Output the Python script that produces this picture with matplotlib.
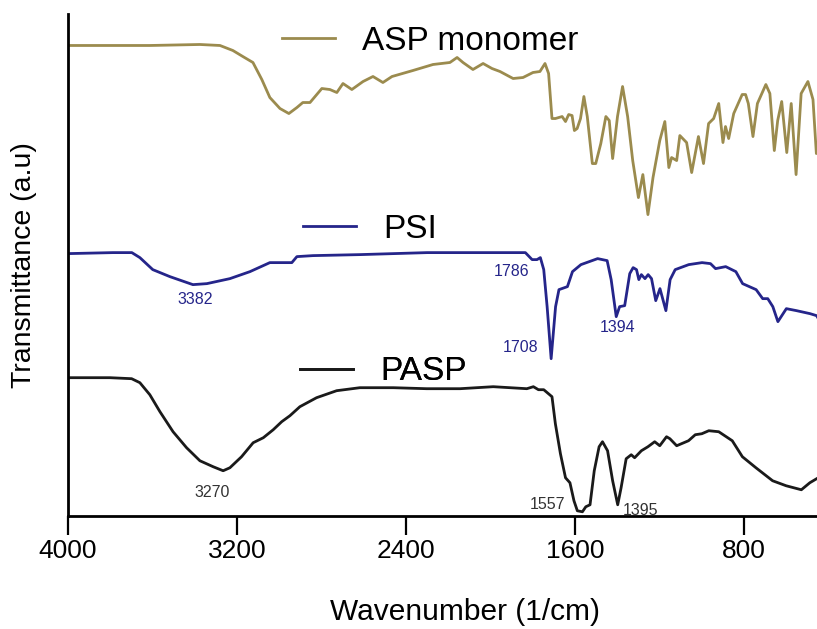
import matplotlib
matplotlib.use("Agg")
import matplotlib.pyplot as plt
from matplotlib.lines import Line2D

plt.rcParams['font.family'] = ['Liberation Sans', 'DejaVu Sans']

# wavenumber (1/cm) and offset transmittance (a.u.)
asp_wn = [4000, 3612, 3375, 3280, 3219, 3172, 3124, 3082, 3044, 2996, 2954, 2916, 2888,
          2854, 2798, 2760, 2727, 2698, 2656, 2603, 2556, 2509, 2466, 2367, 2272, 2192,
          2158, 2130, 2083, 2035, 1993, 1955, 1893, 1846, 1799, 1766, 1742, 1725, 1709,
          1693, 1661, 1645, 1630, 1614, 1603, 1590, 1574, 1558, 1542, 1518, 1502, 1478,
          1454, 1438, 1422, 1399, 1375, 1351, 1327, 1300, 1279, 1255, 1231, 1199, 1175,
          1156, 1143, 1119, 1104, 1072, 1048, 1016, 992, 968, 944, 920, 900, 888, 873,
          849, 809, 793, 780, 758, 737, 697, 678, 657, 641, 622, 598, 577, 554, 530, 498,
          474, 458, 440]
asp_t = [4.70, 4.70, 4.71, 4.70, 4.65, 4.59, 4.53, 4.36, 4.18, 4.07, 4.02, 4.08, 4.13,
         4.13, 4.27, 4.26, 4.23, 4.32, 4.26, 4.34, 4.39, 4.33, 4.39, 4.45, 4.51, 4.53,
         4.58, 4.53, 4.46, 4.52, 4.47, 4.44, 4.37, 4.38, 4.43, 4.44, 4.52, 4.42, 3.97,
         3.97, 3.99, 3.94, 4.01, 4.00, 3.85, 3.87, 3.97, 4.19, 3.99, 3.52, 3.52, 3.72,
         3.99, 3.95, 3.57, 3.99, 4.29, 3.99, 3.55, 3.18, 3.41, 3.01, 3.38, 3.75, 3.94,
         3.48, 3.58, 3.55, 3.80, 3.73, 3.43, 3.79, 3.52, 3.92, 3.97, 4.12, 3.73, 3.89,
         3.77, 4.02, 4.21, 4.21, 4.12, 3.79, 4.12, 4.31, 4.22, 3.65, 3.95, 4.14, 3.63,
         4.12, 3.41, 4.22, 4.34, 4.16, 3.62, 3.65]

psi_wn = [4000, 3787, 3697, 3659, 3598, 3517, 3408, 3342, 3233, 3138, 3044, 2963, 2940,
          2916, 2840, 2618, 2300, 2144, 1988, 1835, 1803, 1780, 1764, 1748, 1732, 1713,
          1692, 1676, 1636, 1612, 1572, 1493, 1448, 1429, 1405, 1389, 1365, 1341, 1325,
          1309, 1298, 1286, 1269, 1254, 1238, 1218, 1198, 1170, 1150, 1126, 1062, 999,
          959, 935, 887, 839, 807, 743, 712, 688, 664, 640, 600, 552, 488, 457, 440]
psi_t = [2.62, 2.63, 2.63, 2.58, 2.46, 2.39, 2.31, 2.32, 2.37, 2.44, 2.53, 2.53, 2.53,
         2.59, 2.60, 2.61, 2.63, 2.63, 2.63, 2.63, 2.56, 2.56, 2.58, 2.46, 2.09, 1.57,
         2.09, 2.26, 2.29, 2.44, 2.51, 2.57, 2.55, 2.36, 1.99, 2.09, 2.10, 2.42, 2.48,
         2.46, 2.36, 2.41, 2.37, 2.41, 2.37, 2.15, 2.27, 2.05, 2.36, 2.46, 2.51, 2.53,
         2.52, 2.47, 2.49, 2.44, 2.32, 2.26, 2.17, 2.17, 2.09, 1.94, 2.07, 2.05, 2.02,
         2.00, 1.94]

pasp_wn = [4000, 3801, 3698, 3659, 3612, 3564, 3502, 3438, 3375, 3312, 3265, 3233, 3178,
           3123, 3075, 3028, 2988, 2949, 2902, 2823, 2728, 2618, 2460, 2302, 2144, 1987,
           1828, 1797, 1773, 1748, 1709, 1693, 1669, 1645, 1624, 1605, 1589, 1565, 1549,
           1529, 1509, 1486, 1470, 1446, 1422, 1398, 1382, 1358, 1334, 1318, 1286, 1255,
           1223, 1199, 1167, 1151, 1119, 1063, 1031, 1000, 967, 920, 856, 808, 744, 665,
           601, 529, 489, 449]
pasp_t = [1.38, 1.38, 1.37, 1.33, 1.21, 1.04, 0.84, 0.68, 0.55, 0.49, 0.45, 0.48, 0.59,
          0.73, 0.78, 0.86, 0.94, 1.00, 1.09, 1.18, 1.25, 1.28, 1.28, 1.27, 1.27, 1.29,
          1.27, 1.29, 1.26, 1.26, 1.19, 0.92, 0.62, 0.38, 0.33, 0.15, 0.05, 0.04, 0.09,
          0.11, 0.45, 0.69, 0.74, 0.65, 0.35, 0.11, 0.28, 0.57, 0.61, 0.58, 0.65, 0.69,
          0.74, 0.70, 0.79, 0.77, 0.70, 0.75, 0.81, 0.82, 0.85, 0.84, 0.75, 0.59, 0.48,
          0.35, 0.30, 0.26, 0.33, 0.38]

# peak labels: text, wavenumber position, transmittance position
psi_peaks = [("3382", 3399, 2.16), ("1786", 1898, 2.44), ("1708", 1860, 1.68),
             ("1394", 1401, 1.88)]
pasp_peaks = [("3270", 3318, 0.23), ("1557", 1728, 0.11), ("1395", 1292, 0.05)]

c_asp = '#9b8b4e'
c_psi = '#25258a'
c_pasp = '#1a1a1a'

fig = plt.figure(figsize=(8.17, 6.29), dpi=100)
ax = fig.add_axes([0.083, 0.18, 0.917, 0.797])

ax.plot(asp_wn, asp_t, color=c_asp, lw=2)
ax.plot(psi_wn, psi_t, color=c_psi, lw=2)
ax.plot(pasp_wn, pasp_t, color=c_pasp, lw=2)

for txt, x, y in psi_peaks:
    ax.text(x, y, txt, color=c_psi, fontsize=11.5, ha='center', va='center')
for txt, x, y in pasp_peaks:
    ax.text(x, y, txt, color='#333333', fontsize=11.5, ha='center', va='center')

# one small legend per curve, placed next to it
for lab, col, pos in [("ASP monomer", c_asp, (0.286, 0.946)),
                      ("PSI", c_psi, (0.314, 0.571)),
                      ("PASP", c_pasp, (0.310, 0.287))]:
    h = Line2D([], [], color=col, lw=2)
    leg = ax.legend([h], [lab], loc='center left', bbox_to_anchor=pos,
                    frameon=False, fontsize=24, handlelength=1.6,
                    handletextpad=0.8, borderpad=0, borderaxespad=0)
    ax.add_artist(leg)

ax.set_xlim(4000, 455)
ax.set_ylim(0, 5.01)
ax.set_xticks([4000, 3200, 2400, 1600, 800])
ax.set_yticks([])
ax.tick_params(axis='x', direction='out', length=14, width=1.6, labelsize=19, pad=3)
for s in ['top', 'right']:
    ax.spines[s].set_visible(False)
for s in ['left', 'bottom']:
    ax.spines[s].set_linewidth(2)

ax.set_xlabel("Wavenumber (1/cm)", fontsize=21.5)
ax.xaxis.set_label_coords(0.53, -0.165)
ax.set_ylabel("Transmittance (a.u)", fontsize=20.5, labelpad=22)

fig.savefig("out.png", dpi=100)
